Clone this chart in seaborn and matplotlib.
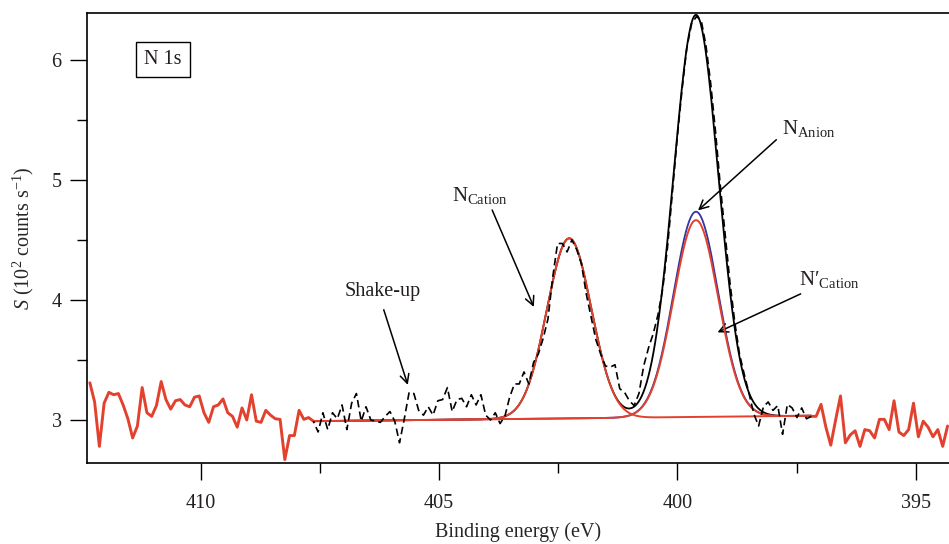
import numpy as np
import pandas as pd
import seaborn as sns
import matplotlib.pyplot as plt

# raw N 1s spectrum (counts in 10^2 /s)
left_counts = [3.31, 3.15, 2.78, 3.14, 3.23, 3.21, 3.22, 3.125, 3.01, 2.85, 2.95, 3.27,
               3.06, 3.03, 3.12, 3.32, 3.17, 3.09, 3.16, 3.17, 3.125, 3.11, 3.19, 3.20,
               3.06, 2.98, 3.11, 3.125, 3.175, 3.06, 3.03, 2.94, 3.10, 3.00, 3.21, 2.99,
               2.98, 3.08, 3.04, 3.01, 3.005, 2.67, 2.87, 2.87, 3.08, 3.005, 3.02, 2.99]
mid_counts = [2.99, 2.90, 3.06, 2.92, 3.06, 3.01, 3.125, 2.92, 3.14, 3.22, 2.99, 3.11,
              3.00, 2.99, 2.98, 3.03, 3.07, 2.99, 2.81, 3.01, 3.23, 3.22, 3.08, 3.04,
              3.11, 3.04, 3.16, 3.17, 3.27, 3.07, 3.17, 3.18, 3.11, 3.21, 3.125, 3.21,
              3.04, 3.00, 3.06, 2.97, 3.03, 3.19, 3.30, 3.30, 3.40, 3.30, 3.48, 3.55,
              3.68, 3.84, 4.19, 4.47, 4.47, 4.40, 4.50, 4.42, 4.30, 4.05, 3.86, 3.67,
              3.55, 3.45, 3.44, 3.46, 3.26, 3.23, 3.16, 3.12, 3.22, 3.45, 3.60, 3.72,
              3.88, 4.10, 4.45, 4.90, 5.35, 5.75, 6.10, 6.30, 6.36, 6.33, 6.12, 5.80,
              5.40, 4.95, 4.55, 4.15, 3.82, 3.55, 3.38, 3.22, 3.05, 2.95, 3.11, 3.15,
              3.08, 3.12, 2.88, 3.13, 3.10, 3.02, 3.10, 3.01, 3.03]
right_counts = [3.03, 3.03, 3.13, 2.94, 2.79, 3.00, 3.20, 2.81, 2.875, 2.91, 2.78, 2.92,
                2.91, 2.85, 3.005, 3.005, 2.92, 3.16, 2.90, 2.87, 2.92, 3.14, 2.86, 2.99,
                2.94, 2.86, 2.92, 2.78, 2.95]
left_range = (412.33, 407.64)
mid_range = (407.64, 397.19)
right_range = (397.19, 394.33)

# fitted components: centre (eV), height above background, FWHM (eV)
peak_centres = [402.27, 399.61, 399.61]
peak_heights = [1.50, 1.71, 1.64]
peak_fwhm = [1.10, 1.10, 1.10]
background_ends = [2.99, 3.035]

red = '#e2412e'
blue = '#34349e'
ink = '#231f20'

sns.set_theme(style='ticks')
plt.rcParams['font.family'] = ['Liberation Serif', 'DejaVu Serif']
plt.rcParams['mathtext.fontset'] = 'custom'
plt.rcParams['mathtext.rm'] = 'Liberation Serif'
plt.rcParams['mathtext.it'] = 'Liberation Serif:italic'
plt.rcParams['text.color'] = ink

left = pd.DataFrame({'E': np.linspace(*left_range, len(left_counts)), 'S': left_counts})
mid = pd.DataFrame({'E': np.linspace(*mid_range, len(mid_counts)), 'S': mid_counts})
right = pd.DataFrame({'E': np.linspace(*right_range, len(right_counts)), 'S': right_counts})

# model curves over the fit window
E = np.linspace(*mid_range, 600)
bg = np.interp(E, [mid_range[1], mid_range[0]], background_ends[::-1])
comps = []
for c, h, w in zip(peak_centres, peak_heights, peak_fwhm):
    sig = w / 2.3548
    comps.append(h * np.exp(-0.5 * ((E - c) / sig) ** 2))
fit = pd.DataFrame({'E': E,
                    'cation': bg + comps[0],
                    'anion': bg + comps[1],
                    'cation2': bg + comps[2],
                    'envelope': bg + comps[0] + comps[1] + comps[2]})

fig = plt.figure(figsize=(9.49, 5.44), dpi=100)
ax = fig.add_axes([87 / 949, 1 - 462.7 / 544, 862 / 949, 449.7 / 544])

sns.lineplot(data=fit, x='E', y='envelope', ax=ax, color='black', lw=1.3, errorbar=None, zorder=2)
sns.lineplot(data=fit, x='E', y='anion', ax=ax, color=blue, lw=1.3, errorbar=None, zorder=3)
sns.lineplot(data=fit, x='E', y='cation', ax=ax, color=red, lw=1.4, errorbar=None, zorder=4)
sns.lineplot(data=fit, x='E', y='cation2', ax=ax, color=red, lw=1.4, errorbar=None, zorder=4)
sns.lineplot(data=mid, x='E', y='S', ax=ax, color='black', lw=1.2, linestyle=(0, (4.5, 2.5)),
             errorbar=None, zorder=5)
sns.lineplot(data=left, x='E', y='S', ax=ax, color=red, lw=2.1, errorbar=None, zorder=4)
sns.lineplot(data=right, x='E', y='S', ax=ax, color=red, lw=2.1, errorbar=None, zorder=4)

ax.set_xlim(412.39, 394.30)
ax.set_ylim(2.644, 6.39)
ax.set_xticks([410, 405, 400, 395])
ax.set_xticks([407.5, 402.5, 397.5], minor=True)
ax.set_yticks([3, 4, 5, 6])
ax.set_yticks([3.5, 4.5, 5.5], minor=True)
ax.tick_params(which='major', direction='out', length=12.2, width=1.0, color='black',
               labelsize=14.5, labelcolor=ink)
ax.tick_params(axis='x', which='major', pad=10)
ax.tick_params(axis='y', which='major', pad=6)
ax.tick_params(which='minor', direction='out', length=7.2, width=1.0, color='black')
ax.spines['right'].set_visible(False)
for s in ['left', 'bottom', 'top']:
    ax.spines[s].set_linewidth(1.2)
    ax.spines[s].set_color('black')

ax.set_xlabel('Binding energy (eV)', fontsize=14.5, labelpad=7)
ax.set_ylabel(r'$S$ (10$^2$ counts s$^{-1}$)', fontsize=14.5, labelpad=11)

ax.text(410.79, 6.0, 'N 1s', fontsize=14.5, ha='center', va='center',
        bbox=dict(boxstyle='square,pad=0.4', fc='white', ec='black', lw=1.0))

arrow = dict(arrowstyle='->', color='black', lw=1.1, mutation_scale=16)
ax.text(406.18, 4.07, 'Shake-up', fontsize=14.5, ha='center', va='center')
ax.annotate('', xy=(405.64, 3.27), xytext=(406.18, 3.94), arrowprops=arrow)
ax.text(404.14, 4.87, r'N$_{\mathrm{Cation}}$', fontsize=15, ha='center', va='center')
ax.annotate('', xy=(402.99, 3.92), xytext=(403.91, 4.77), arrowprops=arrow)
ax.text(397.25, 5.43, r'N$_{\mathrm{Anion}}$', fontsize=15, ha='center', va='center')
ax.annotate('', xy=(399.61, 4.73), xytext=(397.88, 5.35), arrowprops=arrow)
ax.text(396.82, 4.17, r'N$\prime_{\mathrm{Cation}}$', fontsize=15, ha='center', va='center')
ax.annotate('', xy=(399.21, 3.72), xytext=(397.36, 4.06), arrowprops=arrow)

plt.savefig('out.png', dpi=100)
